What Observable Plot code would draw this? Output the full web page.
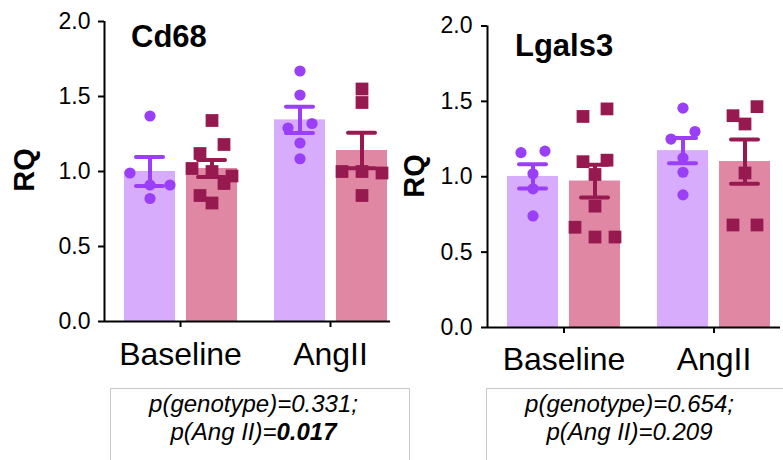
<!DOCTYPE html>
<html>
<head>
<meta charset="utf-8">
<script src="https://cdn.jsdelivr.net/npm/d3@7"></script>
<script src="https://cdn.jsdelivr.net/npm/@observablehq/plot@0.6"></script>
<style>
  html, body { margin: 0; padding: 0; background: #fff; }
  body { font-family: "Liberation Sans", Arial, sans-serif; color: #000; }
  #wrap { position: relative; width: 783px; height: 460px; overflow: hidden; background: #fff; }
  .layer { position: absolute; top: 0; }
  .title { position: absolute; font-weight: bold; font-size: 31px; line-height: 1; white-space: nowrap; }
  .ylab { position: absolute; font-weight: bold; font-size: 29px; line-height: 1; white-space: nowrap;
          transform: translate(-50%, -50%) rotate(-90deg); }
  .note { position: absolute; top: 388px; height: 120px; box-sizing: border-box; border: 1px solid #c8c8c8;
          font-style: italic; font-size: 24px; line-height: 28px; padding-top: 1px; }
  .note div { width: 285px; text-align: center; white-space: nowrap; }
</style>
</head>
<body>
<div id="wrap"></div>
<script>
// ---- data ----
const groups = ["Baseline", "AngII"];
const genotypes = ["WT", "KO"];            // internal keys: purple circles, pink squares
const yTicks = [0, 0.5, 1.0, 1.5, 2.0];

const cd68_WT_Baseline = [1.37, 0.99, 0.91, 0.91, 0.82];
const cd68_KO_Baseline = [1.34, 1.18, 1.12, 1.02, 1.00, 0.97, 0.92, 0.84, 0.79];
const cd68_WT_AngII    = [1.67, 1.51, 1.32, 1.29, 1.19, 1.085];
const cd68_KO_AngII    = [1.55, 1.46, 1.00, 0.99, 1.00, 0.84];

const lgals3_WT_Baseline = [1.17, 1.16, 1.02, 0.92, 0.74];
const lgals3_KO_Baseline = [1.45, 1.40, 1.11, 1.10, 1.015, 0.805, 0.665, 0.60, 0.60];
const lgals3_WT_AngII    = [1.455, 1.30, 1.25, 1.125, 1.03, 0.88];
const lgals3_KO_AngII    = [1.465, 1.405, 1.35, 1.025, 0.68, 0.68];

const titles = ["Cd68", "Lgals3"];
const yLabel = "RQ";
const pGenotype = ["0.331", "0.654"];
const pAngII = ["0.017", "0.209"];
const pAngIIBold = [true, false];

// ---- styles ----
const colors = {
  WT: {bar: "#d8acfc", dot: "#9a3ef7", symbol: "circle", r: 5.6},
  KO: {bar: "#e087a3", dot: "#961a50", symbol: "square", r: 7.2}
};

function buildRows(sets) {
  const pts = [], summ = [];
  for (const group of groups) for (const geno of genotypes) {
    const vals = sets[group][geno];
    vals.forEach(v => pts.push({group, geno, value: v}));
    summ.push({group, geno, mean: d3.mean(vals), sem: d3.deviation(vals) / Math.sqrt(vals.length)});
  }
  return {pts, summ};
}

// row-based scatter spreading: points closer than `gap` px in y share a row and are spread symmetrically
function assignSlots(pts, pxPerUnit, gap) {
  for (const group of groups) for (const geno of genotypes) {
    const sel = pts.filter(d => d.group === group && d.geno === geno)
                   .sort((a, b) => b.value - a.value);
    const rows = [];
    for (const p of sel) {
      const row = rows[rows.length - 1];
      if (row && (row[0].value - p.value) * pxPerUnit < gap) row.push(p);
      else rows.push([p]);
    }
    for (const row of rows) {
      const n = row.length;
      const unit = n === 2 ? 2.4 : 2;
      const ordered = n === 2 ? row.slice().reverse() : row;
      ordered.forEach((p, i) => { p.slot = (i - (n - 1) / 2) * unit; });
    }
  }
}

function panel(cfg) {
  const {sets, left, width, height, mL, mR, mT, mB, insL, insR, fxPad, yPad, xPad} = cfg;
  const {pts, summ} = buildRows(sets);
  const pxPerUnit = (height - mT - mB) / 2;
  const step = 10;
  assignSlots(pts, pxPerUnit, 13);
  const slots = Array.from(new Set(pts.map(d => d.slot)));

  const common = {
    width, height, marginLeft: mL, marginRight: mR, marginTop: mT, marginBottom: mB,
    style: {fontFamily: "'Liberation Sans', Arial, sans-serif", color: "#000", background: "transparent", overflow: "visible", maxWidth: "none"}
  };

  const marks = [];
  for (const g of genotypes) {
    marks.push(Plot.barY(summ.filter(d => d.geno === g), {fx: "group", x: "geno", y: "mean", fill: colors[g].bar}));
  }
  for (const g of genotypes) for (const k of slots) {
    const sub = pts.filter(d => d.geno === g && d.slot === k);
    if (!sub.length) continue;
    marks.push(Plot.dot(sub, {fx: "group", x: "geno", y: "value", dx: k * step, r: colors[g].r,
      symbol: colors[g].symbol, fill: colors[g].dot, stroke: "none"}));
  }
  for (const g of genotypes) {
    const s = summ.filter(d => d.geno === g);
    const c = colors[g].dot;
    marks.push(Plot.ruleX(s, {fx: "group", x: "geno", y1: d => d.mean - d.sem, y2: d => d.mean + d.sem, stroke: c, strokeWidth: 4}));
    marks.push(Plot.tickY(s, {fx: "group", x: "geno", y: d => d.mean + d.sem, stroke: c, strokeWidth: 4, strokeLinecap: "round", insetLeft: 12, insetRight: 12}));
    marks.push(Plot.tickY(s, {fx: "group", x: "geno", y: d => d.mean - d.sem, stroke: c, strokeWidth: 4, strokeLinecap: "round", insetLeft: 12, insetRight: 12}));
  }
  marks.push(Plot.axisFx({anchor: "bottom", tickSize: 6, tickPadding: xPad, fontSize: 32, label: null, strokeWidth: 2}));

  const dataPlot = Plot.plot({
    ...common,
    fx: {domain: groups, paddingInner: fxPad, paddingOuter: 0, insetLeft: insL, insetRight: insR, label: null},
    x: {domain: genotypes, paddingInner: 0.18, paddingOuter: 0, axis: null},
    y: {domain: [0, 2], axis: null},
    marks
  });

  const axisPlot = Plot.plot({
    ...common,
    x: {domain: [0, 1], axis: null},
    y: {domain: [0, 2]},
    marks: [
      Plot.ruleX([0], {strokeWidth: 2}),
      Plot.ruleY([0], {strokeWidth: 2}),
      Plot.axisY({ticks: yTicks, tickFormat: d3.format(".1f"), tickSize: 6, tickPadding: yPad, fontSize: 23, label: null, strokeWidth: 2})
    ]
  });

  for (const svg of [dataPlot, axisPlot]) {
    const div = document.createElement("div");
    div.className = "layer";
    div.style.left = left + "px";
    div.style.width = width + "px";
    div.appendChild(svg);
    document.getElementById("wrap").appendChild(div);
  }
}

const wrap = document.getElementById("wrap");

panel({
  sets: {Baseline: {WT: cd68_WT_Baseline, KO: cd68_KO_Baseline}, AngII: {WT: cd68_WT_AngII, KO: cd68_KO_AngII}},
  left: 0, width: 395, height: 380, mL: 104, mR: 5, mT: 21, mB: 59, insL: 19, insR: 3, fxPad: 0.24, yPad: 8, xPad: 15
});
panel({
  sets: {Baseline: {WT: lgals3_WT_Baseline, KO: lgals3_KO_Baseline}, AngII: {WT: lgals3_WT_AngII, KO: lgals3_KO_AngII}},
  left: 395, width: 388, height: 380, mL: 92, mR: 3, mT: 25.5, mB: 53, insL: 19, insR: 9, fxPad: 0.245, yPad: 9, xPad: 14
});

// titles, axis labels, notes
function addDiv(cls, style, html) {
  const d = document.createElement("div");
  d.className = cls;
  Object.assign(d.style, style);
  d.innerHTML = html;
  wrap.appendChild(d);
  return d;
}
addDiv("title", {left: "131px", top: "21px"}, titles[0]);
addDiv("title", {left: "515px", top: "30px"}, titles[1]);
addDiv("ylab", {left: "24px", top: "170px"}, yLabel);
addDiv("ylab", {left: "414px", top: "176px"}, yLabel);

const noteLeft = [110, 486];
const noteWidth = [300, 310];
for (let i = 0; i < 2; i++) {
  const p2 = pAngIIBold[i] ? `<b>${pAngII[i]}</b>` : pAngII[i];
  addDiv("note", {left: noteLeft[i] + "px", width: noteWidth[i] + "px"},
    `<div>p(genotype)=${pGenotype[i]};</div><div>p(Ang II)=${p2}</div>`);
}
</script>
</body>
</html>
